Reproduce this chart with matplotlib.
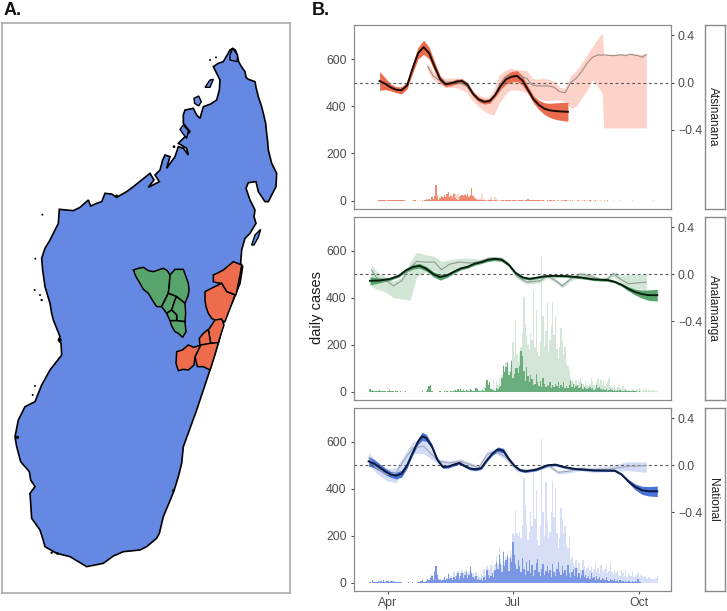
import numpy as np
import matplotlib
matplotlib.use("Agg")
import matplotlib.pyplot as plt
from matplotlib.patches import Polygon

plt.rcParams['font.family'] = ['Liberation Sans', 'DejaVu Sans']

# map outline, in map units (3 units = 1 px of the reference)
coast = [(698,145),(706,150),(712,165),(716,185),(722,196),(728,205),(735,215),(738,232),(745,238),(765,245),(768,262),(770,270),
         (775,290),(785,320),(790,340),(797,370),(800,400),(803,425),(805,450),(815,490),(830,520),(828,560),(815,585),(805,605),
         (795,605),(785,590),(775,575),(768,545),(745,548),(738,565),(750,600),(765,630),(762,650),(768,670),(750,700),(735,715),
         (725,750),(722,790),(728,800),(720,850),(700,900),(670,970),(655,1030),(630,1110),(610,1170),(590,1230),(570,1285),
         (550,1340),(545,1390),(535,1430),(522,1472),(515,1490),(490,1550),(478,1600),(470,1615),(440,1640),(420,1650),(370,1655),
         (340,1668),(310,1690),(260,1700),(210,1670),(170,1660),(135,1640),(128,1615),(120,1590),(95,1555),(90,1480),(105,1460),
         (92,1440),(88,1415),(62,1385),(50,1340),(45,1310),(55,1260),(75,1220),(105,1205),(125,1155),(150,1110),(185,1065),(183,1030),
         (175,1020),(180,1010),(160,960),(155,940),(150,910),(135,860),(128,810),(125,775),(135,745),(150,720),(175,670),(178,628),
         (220,632),(240,622),(265,600),(272,618),(290,610),(305,605),(315,580),(335,582),(350,592),(380,575),(400,560),(425,540),
         (450,520),(462,540),(445,562),(478,545),(465,525),(480,510),(488,480),(495,465),(510,470),(500,505),(525,470),(535,440),
         (550,445),(565,465),(560,445),(535,430),(555,410),(570,395),(550,370),(550,345),(555,330),(580,325),(590,345),(600,355),
         (610,320),(632,312),(650,300),(658,270),(660,240),(645,210),(640,200),(655,190),(670,185),(690,150)]
island_1 = [(755,735),(765,705),(782,688),(775,712),(762,735)]
island_2 = [(582,295),(596,288),(604,305),(596,318),(584,310)]
island_3 = [(615,262),(630,240),(640,238),(630,262)]
island_4 = [(540,388),(550,375),(565,392),(560,415),(548,400)]
island_5 = [(690,165),(698,145),(712,165),(712,185),(690,180)]
coast_dots_x = [127,106,104,120,125,630,648,522,105,98,155,180,52,172,520,350]
coast_dots_y = [644,776,870,885,900,180,172,440,1158,1185,1658,1020,1312,1660,1472,588]
coast_dots_s = [2,2,2,2,3,2,2,4,2,2,3,7,6,4,4,5]

# regions, in the same units before the offset below
green_regions = [
    [(40,60),(55,55),(70,52),(85,62),(100,65),(115,60),(130,55),(142,62),(150,75),(148,105),(145,130),(135,150),(125,170),(110,170),(98,152),(85,130),(70,118),(60,100),(48,80)],
    [(150,75),(165,58),(190,58),(198,80),(205,100),(207,120),(205,135),(195,160),(170,140),(145,130),(148,105)],
    [(145,130),(170,140),(165,150),(155,180),(140,190),(125,170),(135,150)],
    [(170,140),(195,160),(197,190),(195,215),(170,212),(170,195),(155,180),(165,150)],
    [(155,180),(170,195),(170,212),(150,212),(140,190)],
    [(150,212),(170,212),(195,215),(198,245),(188,262),(175,250),(165,245),(155,228)],
]
orange_regions = [
    [(280,75),(295,68),(310,60),(322,50),(340,35),(365,45),(360,75),(355,100),(348,135),(320,125),(305,100),(290,98),(280,95)],
    [(255,125),(280,112),(305,100),(320,125),(345,135),(330,175),(315,215),(300,210),(285,210),(275,205),(265,190),(258,170),(255,150)],
    [(265,240),(285,210),(305,207),(312,225),(303,252),(295,278),(272,280)],
    [(238,265),(250,250),(265,238),(272,280),(240,290)],
    [(225,320),(242,285),(270,280),(295,278),(283,320),(270,360),(250,350),(232,350)],
    [(170,305),(187,300),(205,285),(222,292),(242,285),(225,320),(222,345),(205,360),(190,358),(175,362),(168,340)],
]
region_dx = 360
region_dy = 750

# days counted from 1 April; effect lines on the right-hand axis
top_days = [-6,-2,2,6,10,14,18,22,26,30,34,38,42,46,50,54,58,62,66,70,74,78,82,86,90,94,98,102,106,110,114,118,122,126,131]
top_line = [.014,-.009,-.04,-.06,-.065,-.023,.12,.25,.30,.25,.136,.03,-.014,-.006,.009,.014,-.02,-.096,-.142,-.162,
            -.156,-.105,-.028,.028,.05,.057,.017,-.062,-.142,-.19,-.221,-.235,-.241,-.244,-.247]
top_hw = [.08,.05,.03,.025,.03,.03,.04,.05,.06,.05,.04,.03,.02,.02,.02,.02,.02,.02,.02,.02,
          .02,.02,.03,.04,.045,.045,.04,.03,.03,.04,.05,.06,.07,.075,.08]
top_gray_days = [29,33,37,41,45,49,53,57,61,65,69,73,77,81,85,89,93,97,101,105,109,113,117,121,125,129,133,137,141,145,
                 149,153,156,157,160,164,167,170,173,176,179,182,185,188]
top_gray = [.136,.057,.023,.003,.006,.006,-.006,-.028,-.085,-.133,-.156,-.156,-.133,-.02,.045,.057,.057,.05,.037,-.02,
            -.028,-.028,-.028,-.04,-.077,-.085,0,.037,.094,.165,.216,.235,.232,.235,.232,.228,.232,.236,.228,.24,.235,.228,.215,.238]
top_gray_hi = [.165,.094,.057,.034,.04,.04,.034,.009,-.057,-.099,-.119,-.125,-.062,.065,.102,.122,.113,.108,.102,.037,
               .028,.037,.028,.009,-.04,-.048,.057,.102,.165,.235,.306,.377,.42,.235,.24,.24,.24,.245,.24,.25,.245,.24,.24,.245]
top_gray_lo = [.094,.023,-.006,-.04,-.04,-.04,-.057,-.077,-.148,-.19,-.233,-.261,-.275,-.176,-.105,-.062,-.062,-.068,-.085,-.105,
               -.133,-.148,-.153,-.148,-.148,-.162,-.218,-.199,-.133,-.062,.023,-.04,-.09,-.383,-.383,-.383,-.383,-.383,-.383,-.383,-.383,-.383,-.383,-.383]

mid_days = [-13,-6,1,8,13,18,23,28,33,38,43,48,53,58,63,68,73,78,83,88,93,98,103,108,113,120,130,140,150,160,165,170,175,180,185,190,196]
mid_line = [-.057,-.054,-.043,-.014,.031,.06,.071,.045,0,-.026,-.011,.02,.048,.062,.088,.102,.122,.13,.122,.079,.009,-.028,-.04,
            -.031,-.02,-.014,-.017,-.028,-.045,-.051,-.065,-.091,-.125,-.153,-.17,-.179,-.179]
mid_hw = [.035,.02,.012,.012,.015,.02,.02,.02,.022,.025,.018,.015,.012,.012,.012,.012,.015,.015,.015,.012,.012,.012,.01,
          .01,.01,.01,.01,.01,.01,.01,.01,.012,.018,.025,.035,.045,.05]
mid_gray_days = [-12,-8,-2,4,10,16,21,28,34,39,45,52,60,67,74,82,87,94,101,111,116,121,127,133,140,148,155,160,164,170,175,188]
mid_gray = [.037,-.034,-.048,-.1,-.057,.051,.108,.102,.102,.037,.085,.102,.094,.108,.136,.13,.094,-.02,-.068,-.057,-.011,-.048,
            -.1,-.04,0,-.02,-.048,-.04,.003,-.048,-.082,-.068]
mid_gray_hi = [.079,.02,-.02,-.06,-.03,.1,.187,.164,.15,.108,.122,.135,.135,.125,.15,.15,.11,0,-.05,-.04,0,-.03,-.08,-.02,.02,0,
               -.03,-.015,.025,-.01,-.006,0]
mid_gray_lo = [-.105,-.13,-.15,-.2,-.21,-.224,-.02,.02,.03,-.02,.03,.055,.06,.085,.12,.11,.075,-.04,-.085,-.075,-.03,-.065,-.115,
               -.06,-.02,-.04,-.065,-.06,-.02,-.08,-.12,-.13]

nat_days = [-14,-10,-6,-2,2,6,10,14,18,22,25,28,32,36,40,44,48,52,56,60,64,68,72,76,80,84,88,92,96,100,108,116,122,128,136,150,165,170,175,180,185,190,196]
nat_line = [.034,.014,-.017,-.051,-.077,-.088,-.071,0,.105,.204,.247,.233,.162,.048,-.014,-.011,.006,.02,-.006,-.028,-.034,-.023,
            .043,.099,.136,.125,.054,-.003,-.04,-.051,-.037,0,.006,-.014,-.031,-.043,-.045,-.077,-.136,-.184,-.213,-.221,-.221]
nat_hw = [.04,.035,.03,.028,.025,.028,.03,.025,.02,.025,.035,.03,.02,.015,.012,.012,.012,.012,.012,.012,.012,.012,.012,.015,.02,
          .02,.015,.012,.012,.01,.01,.01,.01,.01,.008,.008,.008,.01,.015,.025,.035,.04,.045]
nat_gray_days = [-14,-8,-1,6,12,18,26,32,37,45,53,60,66,72,78,85,94,103,111,117,124,131,140,149,162,174,188]
nat_gray = [.062,-.023,-.079,-.065,.048,.147,.162,.091,.034,.02,.034,.006,-.023,.091,.119,.077,-.037,-.043,-.023,-.003,-.06,-.051,
            -.028,-.037,-.031,-.009,-.003]
nat_gray_hi = [.11,.03,-.03,-.02,.09,.2,.22,.13,.055,.04,.055,.025,-.005,.115,.145,.1,-.02,-.03,-.01,.01,-.045,-.035,-.01,-.015,
               -.005,.03,.03]
nat_gray_lo = [.01,-.07,-.13,-.15,0,.1,.1,.05,.005,-.005,.01,-.015,-.04,.065,.1,.055,-.055,-.055,-.035,-.015,-.075,-.065,-.045,
               -.06,-.055,-.045,-.06]

# daily cases, one value per day from 14 days before 1 April
first_bar_day = -14
top_local = [0,0,0,0,0,0,0,2,2,2, 1,2,2,0,1,1,2,1,2,1, 2,1,1,1,2,1,1,0,0,0, 0,0,0,1,1,0,0,0,0,1,
             0,2,6,4,8,3,14,8,20,66, 18,4,10,22,14,25,16,28,38,15, 22,12,30,10,8,5,14,18,24,20,
             26,18,30,15,25,56,22,12,6,5, 3,5,2,2,1,1,0,2,1,4, 1,0,2,1,0,0,0,1,1,0, 1,1,2,1,0,2,1,1,0,1,
             1,2,1,0,2,5,6,4,3,5, 4,2,1,2,1,1,0,1,0,0, 1,0,1,1,0,1,0,0,1,0, 0,1,0,1,1,0,0,1,0,0,
             0,0,1,0,0,0,0,1,0,0, 0,1,0,0,0,1,0,0,0,0, 0,0,0,0,1,0,0,0,0,0, 0,0,0,0,0,0,0,0,0,0,
             0,0,0,0,0,0,0,0,0,0, 0,0,0,0,0,0,0,0,0,0,0]
top_total = [0,0,0,0,0,0,0,2,2,2, 1,2,2,0,1,1,2,1,2,1, 2,1,1,1,2,1,1,0,0,0, 0,0,0,1,1,0,0,0,0,1,
             0,2,6,4,8,3,14,8,20,66, 18,4,10,22,14,25,16,28,38,15, 25,20,32,28,26,30,20,22,26,24,
             28,20,32,18,26,56,24,14,10,8, 6,12,34,28,8,4,3,6,5,14, 4,3,16,6,2,1,1,2,2,1, 2,1,2,1,1,2,1,2,1,1,
             2,2,1,1,2,5,7,4,3,5, 4,3,2,2,1,2,1,1,1,0, 1,1,1,2,1,1,0,1,1,0, 1,1,1,1,2,1,0,1,1,0,
             1,0,1,1,0,1,1,1,0,1, 0,1,1,0,1,1,0,1,0,1, 0,0,1,0,1,0,0,0,1,0, 0,0,0,1,0,0,0,0,0,0,
             0,0,1,0,0,0,0,0,0,0, 0,0,0,0,0,0,0,1,0,0,0]
mid_local = [0,12,4,6,3,5,2,4,6,3, 2,5,3,1,4,6,3,2,4,1, 2,3,1,2,0,1,0,2,0,0, 0,1,0,0,0,0,0,0,1,2,
             0,1,3,12,26,28,3,1,0,1, 1,0,2,1,0,3,1,2,1,0, 2,1,4,6,3,10,5,12,4,8, 3,7,2,5,10,6,3,2,16,10,
             5,3,4,6,2,14,48,30,40,12, 6,8,5,15,10,20,25,60,110,85, 105,124,70,85,130,60,75,100,103,80,
             110,172,150,90,45,105,65,40,70,55, 30,35,75,40,25,45,20,60,35,20, 30,25,40,15,30,20,35,25,40,18,
             28,20,42,18,25,15,30,45,22,35, 18,25,30,15,22,35,12,20,18,10, 15,22,10,18,8,12,30,15,22,10,
             8,12,6,10,5,8,10,6,4,8, 5,7,3,6,4,5,3,6,2,4, 3,5,2,4,3,2,1,2,1,0, 0,0,0,0,0,0,0,0,0,0,0]
mid_total = [0,12,4,6,3,5,2,4,6,3, 2,5,3,1,4,6,3,2,4,1, 2,3,1,2,0,1,0,2,0,0, 0,1,0,0,0,0,0,0,1,2,
             0,1,3,12,26,28,3,1,0,1, 1,0,3,2,1,4,8,3,2,1, 3,2,6,8,5,12,7,14,6,10, 5,9,4,7,14,8,5,4,18,12,
             8,6,6,10,22,35,50,32,42,18, 12,50,10,45,30,60,30,70,115,90, 125,130,90,105,135,210,150,306,160,130,
             165,190,250,403,290,240,200,180,250,220, 433,190,349,170,150,210,573,320,190,260,
             378,170,220,280,383,240,323,180,140,190, 273,210,160,190,120,110,90,60,50,40,
             35,50,30,45,60,40,35,25,45,30, 25,35,60,45,30,25,40,55,35,50, 30,45,25,35,40,60,25,20,15,25,
             12,20,30,15,8,25,18,12,8,6, 8,5,10,6,4,12,8,15,6,3, 10,6,18,4,8,3,5,8,3,2,0]
nat_local = [0,2,0,12,3,5,2,8,4,6, 3,10,4,7,9,5,8,6,4,7, 5,3,4,2,3,1,0,0,0,2, 0,0,3,0,0,0,2,4,6,12,
             3,4,8,14,10,22,30,12,48,72, 35,15,10,8,12,24,10,18,38,14, 20,12,25,16,30,42,18,28,40,22,
             35,45,20,32,68,40,25,15,30,12, 18,10,14,8,25,10,55,32,20,28, 40,25,55,90,60,120,80,45,130,70,
             95,115,50,105,90,175,120,80,60,95, 70,45,105,60,35,90,50,95,40,75, 30,55,85,100,45,30,60,80,35,50,
             70,40,55,25,80,45,30,60,90,45, 35,70,40,55,30,75,40,25,45,60, 30,65,25,40,20,35,55,25,35,20,
             30,15,40,20,25,12,30,18,25,10, 20,15,10,25,12,8,18,10,6,14, 8,12,5,10,6,9,4,8,5,7,
             6,4,8,3,6,5,18,3,2,1, 0,0,0,0,0,0,0,0,0,0,0]
nat_total = [0,2,0,12,3,5,2,8,4,6, 3,10,4,7,9,5,8,6,4,7, 5,3,4,2,3,1,0,0,0,2, 0,0,3,0,0,0,2,4,6,12,
             3,4,8,16,12,24,32,14,50,72, 38,18,14,12,16,28,14,22,42,24, 30,20,45,30,40,50,30,48,55,40,
             50,58,36,45,70,52,40,30,45,30, 36,24,40,30,60,35,70,60,55,75, 70,50,80,115,80,150,100,75,135,90,
             110,125,105,135,120,210,205,305,210,200, 215,190,240,448,330,250,180,215,300,240,
             475,270,395,180,160,240,614,300,200,430, 260,190,215,300,434,280,405,210,150,190,
             320,270,210,240,160,150,200,95,110,85, 70,95,65,85,60,55,95,70,50,65, 75,55,70,45,60,85,50,65,40,75,
             55,45,60,70,40,50,85,45,35,55, 40,50,35,30,55,40,30,60,25,45, 35,30,50,25,30,35,40,25,35,30,
             25,30,20,15,25,20,15,18,12,20,28]

panel_names = ["Atsinanana", "Analamanga", "National"]
month_days = [0, 91, 183]
month_labels = ["Apr", "Jul", "Oct"]

W, H = 727, 611


def px_axes(fig, left, top, right, bottom):
    return fig.add_axes([left / W, 1 - bottom / H, (right - left) / W, (bottom - top) / H])


def draw_panel(ax, total, local, days, line, hw, gdays, gray, ghi, glo, cols):
    bar_days = first_bar_day + np.arange(len(total))
    ax.bar(bar_days, total, width=1, color=cols["bar_light"], linewidth=0)
    ax.bar(bar_days, local, width=1, color=cols["bar_dark"], linewidth=0)
    ax.set_xlim(-25, 206)
    ax.set_ylim(-35, 744)
    ax.set_yticks([0, 200, 400, 600])
    ax.tick_params(axis="y", labelsize=8.8, colors="#4d4d4d", length=2.5, width=0.8, pad=2.5)
    ax.tick_params(axis="x", labelsize=8.8, colors="#4d4d4d", length=2.5, width=0.8, pad=1.5)
    ax.set_xticks(month_days)
    ax.set_xticklabels(month_labels)

    rax = ax.twinx()
    rax.set_ylim((-35 - 500) / 500, (744 - 500) / 500)
    rax.set_yticks([-0.4, 0, 0.4])
    rax.set_yticklabels(["\u22120.4", "0.0", "0.4"])
    rax.tick_params(axis="y", labelsize=8.8, colors="#4d4d4d", length=2.5, width=0.8, pad=2.5)
    rax.fill_between(gdays, glo, ghi, color=cols["ribbon_light"], linewidth=0)
    line = np.array(line)
    hw = np.array(hw)
    rax.fill_between(days, line - hw, line + hw, color=cols["ribbon"], linewidth=0)
    rax.axhline(0, color="#555555", lw=0.8, ls=(0, (2.5, 2.5)))
    rax.plot(gdays, gray, color=cols["gray"], lw=0.8, solid_joinstyle="round")
    rax.plot(days, line, color=cols["line"], lw=1.4, solid_joinstyle="round")
    for a in (ax, rax):
        for s in a.spines.values():
            s.set_color("#8a8a8a")
            s.set_linewidth(0.8)
    return rax


def draw_strip(fig, name, top, bottom):
    strip = px_axes(fig, 705, top, 725, bottom)
    strip.set_xticks([])
    strip.set_yticks([])
    for s in strip.spines.values():
        s.set_color("#8a8a8a")
        s.set_linewidth(1.0)
    strip.text(0.42, 0.5, name, rotation=-90, ha="center", va="center", fontsize=8.6,
               color="#222222", transform=strip.transAxes)


if __name__ == "__main__":
    fig = plt.figure(figsize=(W / 100, H / 100), dpi=100)

    # panel A
    m = px_axes(fig, 2, 23, 290, 593)
    m.set_xlim(6, 870)
    m.set_ylim(1779, 69)
    m.set_xticks([])
    m.set_yticks([])
    for s in m.spines.values():
        s.set_color("#ababab")
        s.set_linewidth(1.2)
    m.add_patch(Polygon(coast, closed=True, facecolor="#6589e2", edgecolor="black", lw=1.2))
    for isl in (island_1, island_2, island_3, island_4, island_5):
        m.add_patch(Polygon(isl, closed=True, facecolor="#6589e2", edgecolor="black", lw=1.0))
    m.scatter(coast_dots_x, coast_dots_y, s=coast_dots_s, color="black", linewidths=0, zorder=3)
    for reg in green_regions:
        pts = np.array(reg) + [region_dx, region_dy]
        m.add_patch(Polygon(pts, closed=True, facecolor="#58a46d", edgecolor="black", lw=1.1))
    for reg in orange_regions:
        pts = np.array(reg) + [region_dx, region_dy]
        m.add_patch(Polygon(pts, closed=True, facecolor="#ee6c4d", edgecolor="black", lw=1.1))

    # panel B
    ax1 = px_axes(fig, 353.5, 25, 671, 209)
    ax2 = px_axes(fig, 353.5, 216.7, 671, 400)
    ax3 = px_axes(fig, 353.5, 408, 671, 591)

    orange = dict(bar_light="#fbd8cf", bar_dark="#ee8a70", ribbon_light="#fdd2c8", ribbon="#ea6c4c",
                  gray="#a08c88", line="#1c0a06")
    green = dict(bar_light="#d3e6d7", bar_dark="#6aae7d", ribbon_light="#d2e6d5", ribbon="#58a46d",
                 gray="#8f9a92", line="#06200f")
    blue = dict(bar_light="#d7dff7", bar_dark="#7b97e4", ribbon_light="#d3dcf7", ribbon="#4a72d8",
                gray="#a2a6b6", line="#0a1a3c")

    draw_panel(ax1, top_total, top_local, top_days, top_line, top_hw, top_gray_days, top_gray, top_gray_hi, top_gray_lo, orange)
    draw_panel(ax2, mid_total, mid_local, mid_days, mid_line, mid_hw, mid_gray_days, mid_gray, mid_gray_hi, mid_gray_lo, green)
    draw_panel(ax3, nat_total, nat_local, nat_days, nat_line, nat_hw, nat_gray_days, nat_gray, nat_gray_hi, nat_gray_lo, blue)
    ax1.tick_params(axis="x", length=0, labelbottom=False)
    ax2.tick_params(axis="x", length=0, labelbottom=False)
    fig.text(317 / W, 1 - 308 / H, "daily cases", fontsize=10.5, color="#1a1a1a", rotation=90, ha="center", va="center")

    draw_strip(fig, panel_names[0], 25, 209)
    draw_strip(fig, panel_names[1], 216.7, 400)
    draw_strip(fig, panel_names[2], 408, 591)

    fig.text(4 / W, 1 - 15 / H, "A.", fontsize=13, fontweight="bold", color="#111111")
    fig.text(312 / W, 1 - 15 / H, "B.", fontsize=13, fontweight="bold", color="#111111")

    fig.savefig("out.png", dpi=100)
